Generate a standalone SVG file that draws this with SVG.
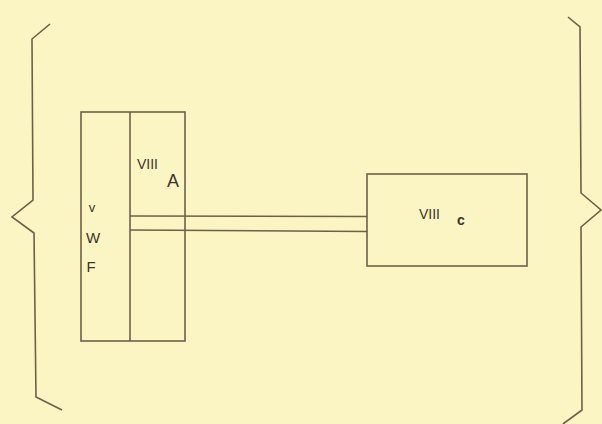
<svg xmlns="http://www.w3.org/2000/svg" width="602" height="424" viewBox="0 0 602 424">
<style>
.ln{fill:none;stroke:#6e5f4a;stroke-width:1.6;stroke-linejoin:miter}
.t{font-family:"Liberation Sans",Arial,sans-serif;fill:#3d342b}
</style>
<rect width="602" height="424" fill="#fbf5c4"/>
<g id="brace-left">
<polyline class="ln" points="50,24 32,39 33,200 12,217 34,233 36,397 62,410"/>
</g>
<g id="brace-right">
<polyline class="ln" points="568,17 580,27 581,193 601,210 581,227 582,410 563,424"/>
</g>
<g id="node-left">
<rect class="ln" x="81" y="112" width="104" height="229"/>
<line class="ln" x1="130" y1="112" x2="130" y2="341"/>
<text class="t" x="137" y="169" font-size="14">VIII</text>
<text class="t" x="167" y="187" font-size="18">A</text>
<text class="t" x="92" y="212" font-size="13" text-anchor="middle">v</text>
<text class="t" x="93" y="243" font-size="15" text-anchor="middle">W</text>
<text class="t" x="91" y="272" font-size="15" text-anchor="middle">F</text>
</g>
<g id="node-right">
<rect class="ln" x="367" y="174" width="160" height="92"/>
<text class="t" x="419" y="219" font-size="14">VIII</text>
<text class="t" x="457" y="225" font-size="14" font-weight="bold">c</text>
</g>
<g id="connectors">
<line class="ln" x1="130" y1="216" x2="367" y2="216.5"/>
<line class="ln" x1="130" y1="230" x2="367" y2="231.5"/>
</g>
</svg>
